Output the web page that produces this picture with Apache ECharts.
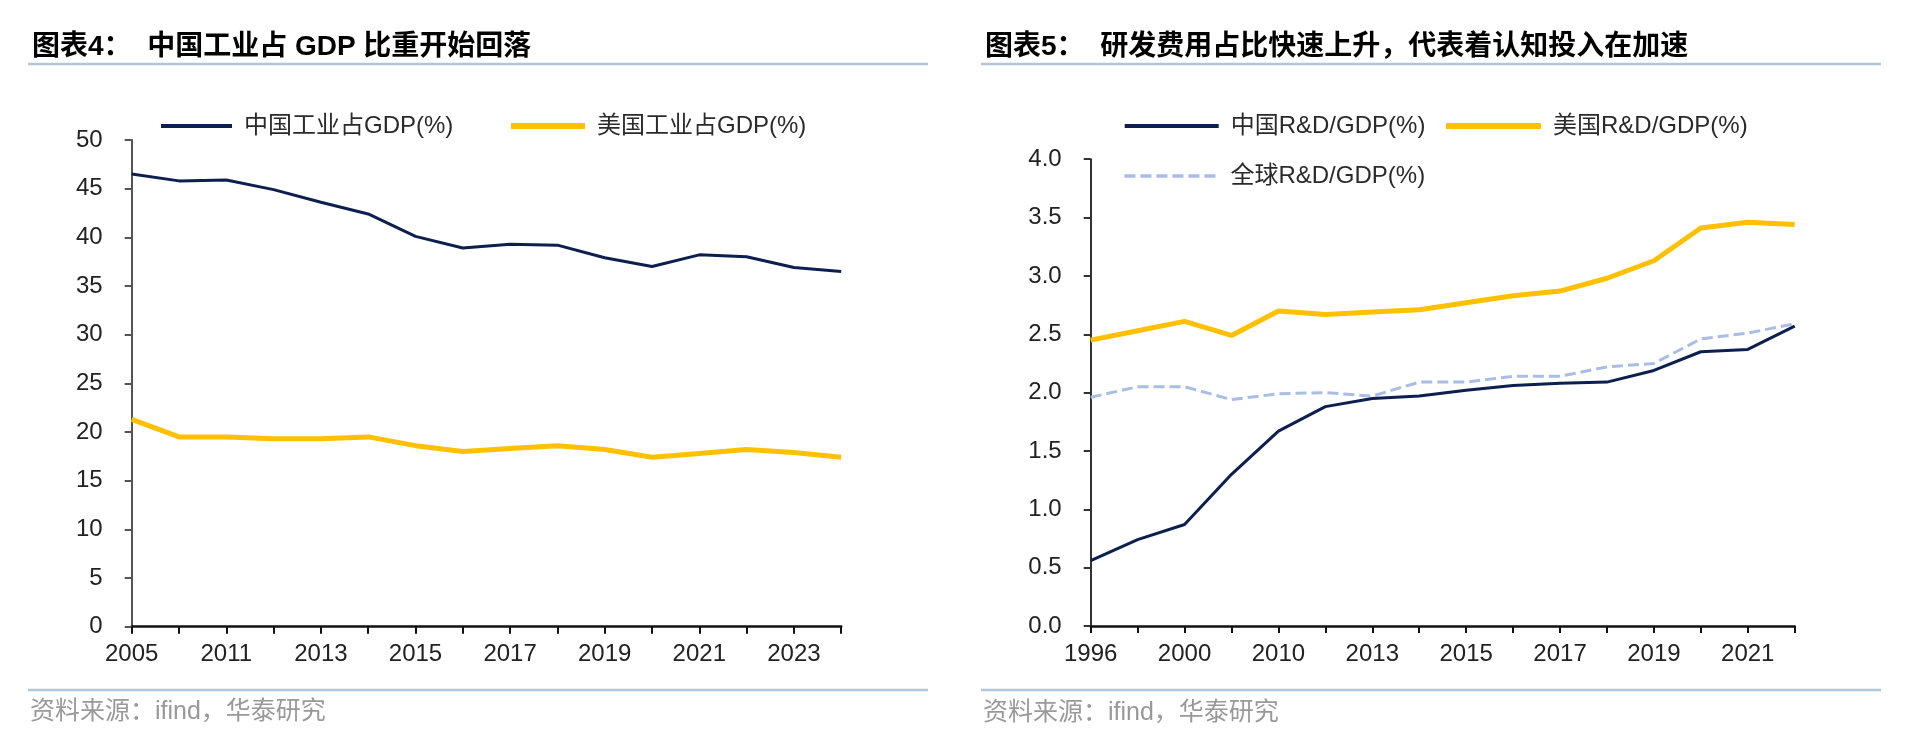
<!DOCTYPE html>
<html>
<head>
<meta charset="utf-8">
<script src="https://cdn.jsdelivr.net/npm/echarts@6/dist/echarts.min.js"></script>
<style>
html,body{margin:0;padding:0;background:#fff;}
#c{width:1920px;height:753px;}
</style>
</head>
<body>
<div id="c"></div>
<script>
// ---- Data ----
const industryYears = ['2005','2010','2011','2012','2013','2014','2015','2016','2017','2018','2019','2020','2021','2022','2023','2024'];
const chinaIndustry = [46.5, 45.8, 45.9, 44.9, 43.6, 42.4, 40.1, 38.9, 39.3, 39.2, 37.9, 37.0, 38.2, 38.0, 36.9, 36.5];
const usIndustry = [21.3, 19.5, 19.5, 19.3, 19.3, 19.5, 18.6, 18.0, 18.3, 18.6, 18.2, 17.4, 17.8, 18.2, 17.9, 17.4];

const rdYears = ['1996','1998','2000','2005','2010','2012','2013','2014','2015','2016','2017','2018','2019','2020','2021','2022'];
const chinaRD = [0.56, 0.74, 0.87, 1.30, 1.67, 1.88, 1.95, 1.97, 2.02, 2.06, 2.08, 2.09, 2.19, 2.35, 2.37, 2.57];
const usRD = [2.45, 2.53, 2.61, 2.49, 2.70, 2.67, 2.69, 2.71, 2.77, 2.83, 2.87, 2.98, 3.13, 3.41, 3.46, 3.44];
const globalRD = [1.96, 2.05, 2.05, 1.94, 1.99, 2.00, 1.97, 2.09, 2.09, 2.14, 2.14, 2.22, 2.25, 2.46, 2.51, 2.59];

const industryYTicks = {min: 0, max: 50, interval: 5};
const rdYTicks = {min: 0, max: 4, interval: 0.5};

const titleLeft = '图表4：  中国工业占 GDP 比重开始回落';
const titleRight = '图表5：  研发费用占比快速上升，代表着认知投入在加速';
const sourceText = '资料来源：ifind，华泰研究';

// ---- Styles ----
const FONT = '"Liberation Sans", Arial, "Noto Sans CJK SC", sans-serif';
const NAVY = '#0c1f4f';
const GOLD = '#ffc000';
const LIGHTBLUE = '#a9bde6';
const SEP = '#b3c5db';

const chart = echarts.init(document.getElementById('c'));

function xAxis(idx, data) {
  return {
    type: 'category', gridIndex: idx, data: data, boundaryGap: false,
    axisLine: {lineStyle: {color: '#111', width: 2.5}},
    axisTick: {show: true, interval: 0, length: 7, lineStyle: {color: '#111', width: 2}},
    axisLabel: {interval: 1, margin: 16, fontSize: 24, color: '#222', fontFamily: FONT},
    splitLine: {show: false}
  };
}
function yAxis(idx, t, dec, color) {
  return {
    type: 'value', gridIndex: idx, min: t.min, max: t.max, interval: t.interval,
    axisLine: {show: true, lineStyle: {color: color, width: 2}},
    axisTick: {show: true, length: 7, lineStyle: {color: color, width: 2}},
    axisLabel: {margin: 29, fontSize: 24, color: '#222', fontFamily: FONT,
      formatter: v => dec ? v.toFixed(1) : String(v)},
    splitLine: {show: false}
  };
}
function legend(name, left, centerY, w, lw) {
  return {
    data: [name], left: left, top: centerY - 12, padding: 0,
    itemWidth: w, itemHeight: 14, itemGap: 0,
    itemStyle: {color: 'rgba(0,0,0,0)', borderWidth: 0, opacity: 0},
    lineStyle: {width: lw},
    textStyle: {fontSize: 24, lineHeight: 24, color: '#2a2a2a', fontFamily: FONT, padding: [0, 0, 0, 7]}
  };
}
function txt(x, y, text, size, color, weight) {
  return {type: 'text', x: x, y: y, silent: true,
    style: {text: text, fontSize: size, fontWeight: weight || 'normal', fontFamily: FONT,
      fill: color, verticalAlign: 'middle', align: 'left'}};
}
function hline(x1, x2, y) {
  return {type: 'line', silent: true, shape: {x1: x1, y1: y, x2: x2, y2: y},
    style: {stroke: SEP, lineWidth: 2.5}};
}

chart.setOption({
  animation: false,
  backgroundColor: '#fff',
  grid: [
    {left: 131.7, top: 140, width: 709.5, height: 486.7},
    {left: 1090.7, top: 159.2, width: 704, height: 466.8}
  ],
  xAxis: [xAxis(0, industryYears), xAxis(1, rdYears)],
  yAxis: [yAxis(0, industryYTicks, false, '#555'), yAxis(1, rdYTicks, true, '#333')],
  legend: [
    legend('中国工业占GDP(%)', 159, 126, 71, 4),
    legend('美国工业占GDP(%)', 508, 126, 74, 6),
    legend('中国R&D/GDP(%)', 1122.7, 126, 94, 4),
    legend('美国R&D/GDP(%)', 1443, 126, 95, 6),
    legend('全球R&D/GDP(%)', 1122.7, 176, 94, 3.5)
  ],
  series: [
    {name: '中国工业占GDP(%)', type: 'line', xAxisIndex: 0, yAxisIndex: 0, data: chinaIndustry,
      symbol: 'none', lineStyle: {color: NAVY, width: 3}, itemStyle: {color: NAVY}},
    {name: '美国工业占GDP(%)', type: 'line', xAxisIndex: 0, yAxisIndex: 0, data: usIndustry,
      symbol: 'none', lineStyle: {color: GOLD, width: 5}, itemStyle: {color: GOLD}},
    {name: '全球R&D/GDP(%)', type: 'line', xAxisIndex: 1, yAxisIndex: 1, data: globalRD,
      symbol: 'none', lineStyle: {color: LIGHTBLUE, width: 3, type: [11, 5]}, itemStyle: {color: LIGHTBLUE}},
    {name: '中国R&D/GDP(%)', type: 'line', xAxisIndex: 1, yAxisIndex: 1, data: chinaRD,
      symbol: 'none', lineStyle: {color: NAVY, width: 3}, itemStyle: {color: NAVY}},
    {name: '美国R&D/GDP(%)', type: 'line', xAxisIndex: 1, yAxisIndex: 1, data: usRD,
      symbol: 'none', lineStyle: {color: GOLD, width: 5}, itemStyle: {color: GOLD}}
  ],
  graphic: [
    txt(32, 47, titleLeft, 28, '#000', 'bold'),
    txt(985, 47, titleRight, 28, '#000', 'bold'),
    hline(28, 928, 64),
    hline(981, 1881, 64),
    hline(28, 928, 690),
    hline(981, 1881, 690),
    txt(30, 712, sourceText, 25, '#999'),
    txt(983, 713, sourceText, 25, '#999')
  ]
});
</script>
</body>
</html>
